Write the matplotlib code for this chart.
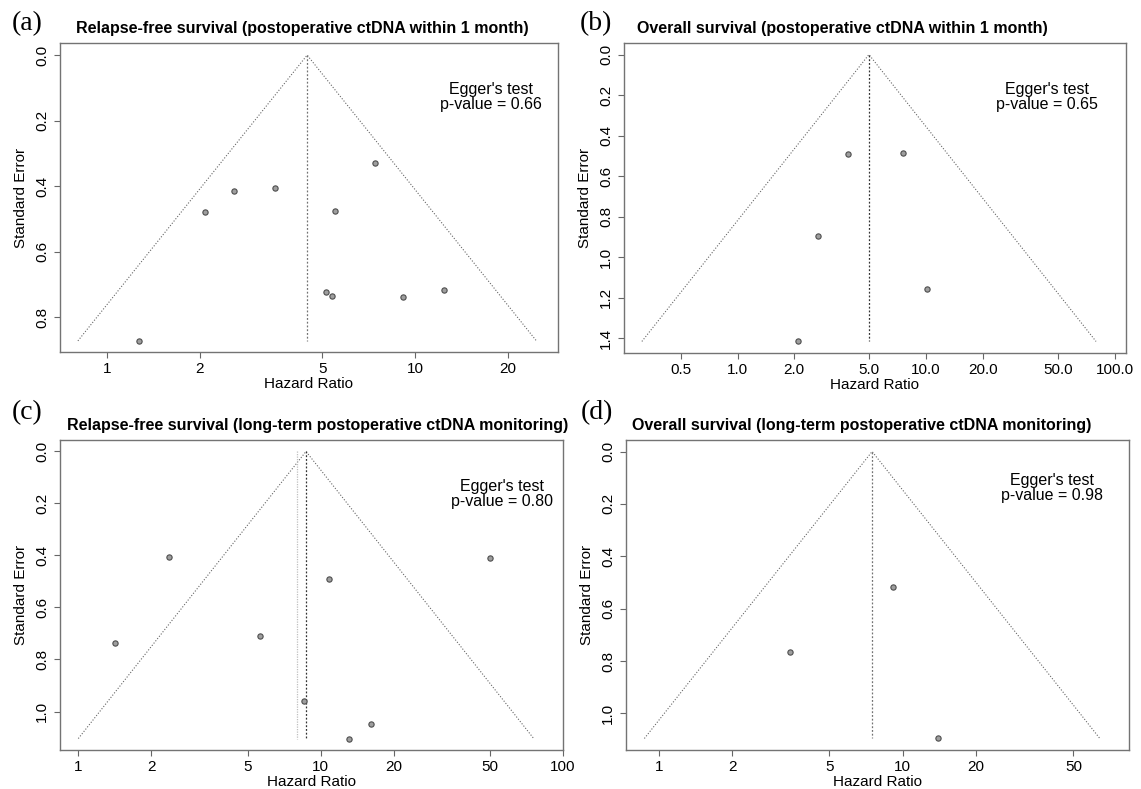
import numpy as np
import matplotlib
matplotlib.use("Agg")
import matplotlib.pyplot as plt
from matplotlib.ticker import FixedLocator, FixedFormatter, NullLocator

# ---------------- data ----------------
labels = ["(a)", "(b)", "(c)", "(d)"]
titles = [
    "Relapse-free survival (postoperative ctDNA within 1 month)",
    "Overall survival (postoperative ctDNA within 1 month)",
    "Relapse-free survival (long-term postoperative ctDNA monitoring)",
    "Overall survival (long-term postoperative ctDNA monitoring)",
]
egger_p = ["0.66", "0.65", "0.80", "0.98"]

hr_a = [1.27, 2.08, 2.58, 3.50, 7.39, 5.47, 5.12, 5.37, 9.12, 12.4]
se_a = [0.873, 0.479, 0.414, 0.406, 0.331, 0.476, 0.725, 0.735, 0.740, 0.719]
hr_b = [3.86, 7.58, 2.67, 10.1, 2.10]
se_b = [0.491, 0.488, 0.894, 1.157, 1.415]
hr_c = [2.36, 1.41, 5.63, 10.8, 49.9, 8.5, 16.2, 13.05]
se_c = [0.405, 0.737, 0.710, 0.491, 0.411, 0.961, 1.048, 1.104]
hr_d = [9.15, 3.45, 14.0]
se_d = [0.518, 0.767, 1.096]

pooled = [4.46, 4.98, 8.7, 7.49]
fixed_c = 8.0   # second (lighter) reference line in panel (c)

xticks_a = [1, 2, 5, 10, 20]
xticks_b = [0.5, 1, 2, 5, 10, 20, 50, 100]
xticks_c = [1, 2, 5, 10, 20, 50, 100]
xticks_d = [1, 2, 5, 10, 20, 50]
xticklabels_a = ["1", "2", "5", "10", "20"]
xticklabels_b = ["0.5", "1.0", "2.0", "5.0", "10.0", "20.0", "50.0", "100.0"]
xticklabels_c = ["1", "2", "5", "10", "20", "50", "100"]
xticklabels_d = ["1", "2", "5", "10", "20", "50"]
yticks_a = [0.0, 0.2, 0.4, 0.6, 0.8]
yticks_b = [0.0, 0.2, 0.4, 0.6, 0.8, 1.0, 1.2, 1.4]
yticks_c = [0.0, 0.2, 0.4, 0.6, 0.8, 1.0]
yticks_d = [0.0, 0.2, 0.4, 0.6, 0.8, 1.0]

# ---------------- layout ----------------
W, H = 1141, 789
fig = plt.figure(figsize=(W / 100, H / 100), dpi=100)
plt.rcParams["font.family"] = ["Liberation Sans", "DejaVu Sans"]

def px_axes(left, top, right, bottom):
    return fig.add_axes([left / W, 1 - bottom / H, (right - left) / W, (bottom - top) / H])

panels = [
    dict(ax=px_axes(60, 43, 558, 352), hr=hr_a, se=se_a, xt=xticks_a, xtl=xticklabels_a,
         yt=yticks_a, xlim=(0.705, 29.0), ylim=(0.907, -0.037), tx=0.486, ex=0.866, ey=0.875,
         lab=(27, 24)),
    dict(ax=px_axes(624, 43, 1126, 353), hr=hr_b, se=se_b, xt=xticks_b, xtl=xticklabels_b,
         yt=yticks_b, xlim=(0.25, 115.0), ylim=(1.472, -0.057), tx=0.436, ex=0.842, ey=0.875,
         lab=(596, 24)),
    dict(ax=px_axes(60, 440, 563, 750), hr=hr_c, se=se_c, xt=xticks_c, xtl=xticklabels_c,
         yt=yticks_c, xlim=(0.84, 100.0), ylim=(1.148, -0.044), tx=0.513, ex=0.879, ey=0.875,
         lab=(27, 413)),
    dict(ax=px_axes(626, 440, 1129, 750), hr=hr_d, se=se_d, xt=xticks_d, xtl=xticklabels_d,
         yt=yticks_d, xlim=(0.735, 84.5), ylim=(1.14, -0.044), tx=0.469, ex=0.847, ey=0.895,
         lab=(597, 413)),
]

for i, p in enumerate(panels):
    ax = p["ax"]
    ax.set_xscale("log")
    ax.set_xlim(*p["xlim"])
    ax.set_ylim(*p["ylim"])
    se_max = max(p["se"])
    c = pooled[i]
    lo = np.exp(np.log(c) - 1.96 * se_max)
    hi = np.exp(np.log(c) + 1.96 * se_max)
    ax.plot([lo, c, hi], [se_max, 0, se_max], color="0.4", lw=0.8, ls=(0, (1.0, 1.6)))
    if i == 2:
        ax.plot([fixed_c, fixed_c], [0, se_max], color="0.75", lw=0.9, ls=(0, (1.0, 1.0)))
    vcol = "0.2" if i in (1, 2) else "0.45"
    ax.plot([c, c], [0, se_max], color=vcol, lw=0.9, ls=(0, (1.5, 1.5)))
    ax.plot(p["hr"], p["se"], ls="none", marker="o", ms=3.8, mfc="0.62", mec="0.3", mew=0.8)

    ax.xaxis.set_major_locator(FixedLocator(p["xt"]))
    ax.xaxis.set_major_formatter(FixedFormatter(p["xtl"]))
    ax.xaxis.set_minor_locator(NullLocator())
    ax.set_yticks(p["yt"])
    ax.set_yticklabels([f"{v:.1f}" for v in p["yt"]], rotation=90, va="center")
    ax.tick_params(axis="both", direction="out", length=4, width=0.8, color="0.4",
                   labelsize=11, pad=3)
    ax.tick_params(axis="y", pad=4)
    for s in ax.spines.values():
        s.set_color("0.45")
        s.set_linewidth(1.0)
    ax.set_xlabel("Hazard Ratio", fontsize=11, labelpad=1)
    ax.set_ylabel("Standard Error", fontsize=11, labelpad=5)
    ax.text(p["tx"], 1.022, titles[i], transform=ax.transAxes, ha="center", va="bottom",
            fontsize=11.5, fontweight="bold")
    ax.text(p["ex"], p["ey"], "Egger's test\np-value = " + egger_p[i], transform=ax.transAxes,
            ha="center", va="top", fontsize=11.5, linespacing=1.0)
    fig.text(p["lab"][0] / W, 1 - p["lab"][1] / H, labels[i], ha="center", va="center",
             fontsize=20, family=["Liberation Serif", "DejaVu Serif"])

fig.savefig("out.png", dpi=100)
